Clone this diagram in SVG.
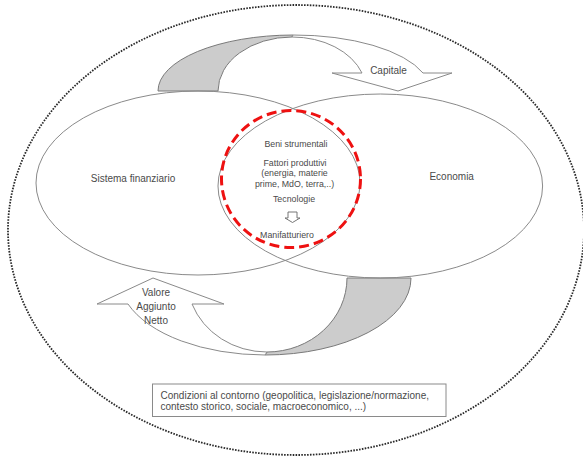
<svg xmlns="http://www.w3.org/2000/svg" width="583" height="457" viewBox="0 0 583 457">
<style>
text{font-family:"Liberation Sans",Arial,sans-serif;fill:#4a4a4a;}
.lbl{font-size:10px;}
.sm{font-size:8.8px;}
.ol{fill:none;stroke:#8a8a8a;stroke-width:1;}
.arw{fill:#ffffff;stroke:#8a8a8a;stroke-width:1;stroke-linejoin:miter;}
.shade{fill:#cccccc;stroke:#7a7a7a;stroke-width:1;}
</style>
<rect x="0" y="0" width="583" height="457" fill="#ffffff"/>
<g id="contesto">
<ellipse cx="296" cy="230" rx="288" ry="225" fill="none" stroke="#2a2a2a" stroke-width="1.8" stroke-dasharray="1.6 1.3"/>
</g>
<g id="connectors">
<g id="flusso-capitale">
<path class="shade" d="M158,91 A136,56 0 0,1 293,35 L292,37 A74,54 0 0,0 218,91 Z"/>
<path class="arw" d="M293,35 A136,56 0 0,1 423,73 L452,73 L398,91 L332,73 L362,73 A74,54 0 0,0 292,37 Z"/>
<text class="lbl" x="388.5" y="73.5" text-anchor="middle">Capitale</text>
</g>
<g id="flusso-valore">
<path class="shade" d="M411,278 A146,77 0 0,1 265,355 L267,352 A80,74 0 0,0 347,278 Z"/>
<path class="arw" d="M265,355 A146,77 0 0,1 128,304 L97,304 L153,278 L224,304 L192,304 A80,74 0 0,0 267,352 Z"/>
<text class="lbl" text-anchor="middle"><tspan x="156" y="296">Valore</tspan><tspan x="156" y="310">Aggiunto</tspan><tspan x="156" y="323.5">Netto</tspan></text>
</g>
</g>
<g id="sistema-finanziario">
<ellipse class="ol" cx="198" cy="183" rx="162" ry="92"/>
<text class="lbl" x="133" y="182" text-anchor="middle">Sistema finanziario</text>
</g>
<g id="economia">
<ellipse class="ol" cx="380.3" cy="186" rx="162.3" ry="92"/>
<text class="lbl" x="451.7" y="180" text-anchor="middle">Economia</text>
</g>
<g id="manifatturiero">
<ellipse cx="291" cy="179" rx="69.5" ry="68.5" fill="none" stroke="#ee1111" stroke-width="3" stroke-dasharray="10 5"/>
<text class="sm" x="296" y="146.5" text-anchor="middle">Beni strumentali</text>
<text class="sm" x="295" y="166" text-anchor="middle">Fattori produttivi</text>
<text class="sm" x="294.5" y="176" text-anchor="middle">(energia, materie</text>
<text class="sm" x="294.5" y="186.5" text-anchor="middle">prime, MdO, terra,..)</text>
<text class="sm" x="294" y="202" text-anchor="middle">Tecnologie</text>
<polygon points="288,212 297,212 297,218 300,218 292.5,222.5 285,218 288,218" fill="none" stroke="#666666" stroke-width="0.9"/>
<text class="sm" x="287" y="238" text-anchor="middle">Manifatturiero</text>
</g>
<g id="condizioni">
<rect x="152.5" y="384" width="293.5" height="32.5" fill="#ffffff" stroke="#8a8a8a" stroke-width="1"/>
<text class="lbl"><tspan x="160.5" y="399">Condizioni al contorno (geopolitica, legislazione/normazione,</tspan><tspan x="160.5" y="410">contesto storico, sociale, macroeconomico, ...)</tspan></text>
</g>
</svg>
